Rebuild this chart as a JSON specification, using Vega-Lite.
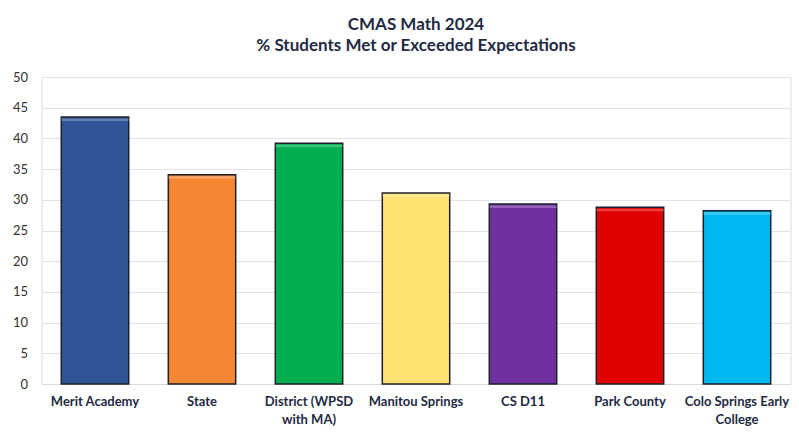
{
  "$schema": "https://vega.github.io/schema/vega-lite/v6.json",
  "autosize": {"type": "none"},
  "width": 749,
  "height": 307,
  "padding": {"left": 41.5, "top": 77, "right": 8.5, "bottom": 60},
  "background": "white",
  "title": {
    "text": "CMAS Math 2024",
    "subtitle": "% Students Met or Exceeded Expectations",
    "font": "Lato",
    "fontSize": 17,
    "fontWeight": "bold",
    "color": "#1f2a44",
    "subtitleFont": "Lato",
    "subtitleFontSize": 17,
    "subtitleFontWeight": "bold",
    "subtitleColor": "#1f2a44",
    "subtitlePadding": 4,
    "anchor": "middle",
    "offset": 16
  },
  "data": {
    "values": [
      {"school": "Merit Academy", "pct": 43.5, "color": "#2f5597"},
      {"school": "State", "pct": 34.1, "color": "#f58634"},
      {"school": "District (WPSD with MA)", "pct": 39.2, "color": "#00b050"},
      {"school": "Manitou Springs", "pct": 31.1, "color": "#ffe271"},
      {"school": "CS D11", "pct": 29.3, "color": "#7030a0"},
      {"school": "Park County", "pct": 28.8, "color": "#e00000"},
      {"school": "Colo Springs Early College", "pct": 28.2, "color": "#00b8f0"}
    ]
  },
  "encoding": {
    "x": {
      "field": "school",
      "type": "nominal",
      "sort": null,
      "scale": {"paddingInner": 0.37, "paddingOuter": 0.185},
      "axis": {
        "title": null,
        "labelAngle": 0,
        "labelFont": "Lato",
        "labelFontSize": 13,
        "labelFontWeight": "bold",
        "labelColor": "#1f2a44",
        "labelPadding": 11,
        "labelLineHeight": 18,
        "labelBaseline": "top",
        "labelLimit": 200,
        "ticks": false,
        "domainColor": "#d9d9d9",
        "labelExpr": "datum.label == 'District (WPSD with MA)' ? ['District (WPSD', 'with MA)'] : datum.label == 'Colo Springs Early College' ? ['Colo Springs Early', 'College'] : datum.label"
      }
    },
    "y": {
      "field": "pct",
      "type": "quantitative",
      "scale": {"domain": [0, 50]},
      "axis": {
        "title": null,
        "values": [0, 5, 10, 15, 20, 25, 30, 35, 40, 45, 50],
        "labelFont": "Lato",
        "labelFontSize": 13,
        "labelColor": "#333333",
        "labelPadding": 14,
        "ticks": false,
        "domain": false,
        "gridColor": "#e0e3e8"
      }
    }
  },
  "layer": [
    {
      "mark": {"type": "bar", "stroke": "#1a1f2b", "strokeWidth": 1.5},
      "encoding": {
        "fill": {"field": "color", "type": "nominal", "scale": null}
      }
    },
    {
      "mark": {"type": "bar", "fill": "white", "opacity": 0.25, "y2Offset": 4, "yOffset": 1.5},
      "encoding": {
        "y2": {"field": "pct"}
      }
    }
  ]
}
